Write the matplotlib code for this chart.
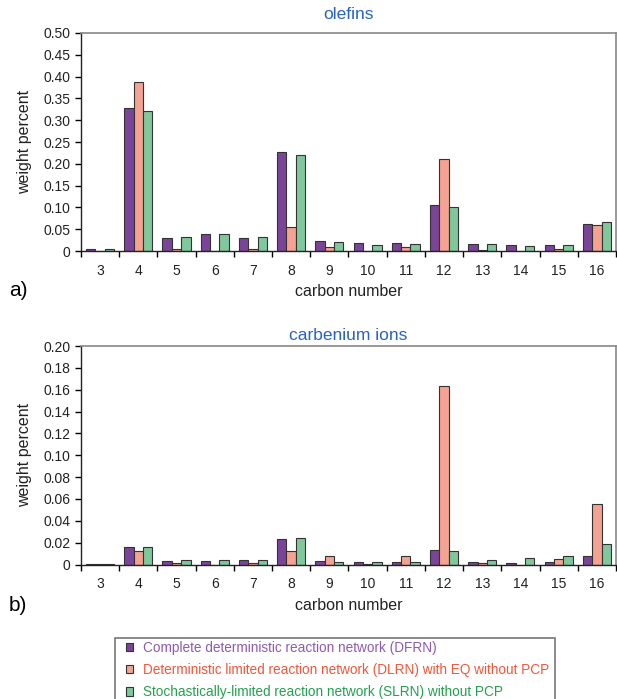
import numpy as np
import matplotlib.pyplot as plt
from matplotlib.patches import Rectangle

carbon = [3, 4, 5, 6, 7, 8, 9, 10, 11, 12, 13, 14, 15, 16]

# olefins, weight percent
olef_dfrn = [0.005, 0.328, 0.029, 0.038, 0.030, 0.227, 0.024, 0.019, 0.019, 0.105, 0.016, 0.014, 0.014, 0.063]
olef_dlrn = [0.001, 0.387, 0.004, 0.000, 0.004, 0.055, 0.009, 0.000, 0.010, 0.210, 0.002, 0.000, 0.004, 0.059]
olef_slrn = [0.004, 0.321, 0.032, 0.040, 0.032, 0.221, 0.021, 0.014, 0.015, 0.102, 0.016, 0.012, 0.013, 0.066]

# carbenium ions, weight percent
carb_dfrn = [0.0006, 0.0156, 0.0034, 0.0034, 0.0037, 0.0230, 0.0030, 0.0027, 0.0024, 0.0130, 0.0027, 0.0018, 0.0027, 0.0079]
carb_dlrn = [0.0002, 0.0122, 0.0012, 0.0000, 0.0012, 0.0120, 0.0082, 0.0005, 0.0076, 0.1635, 0.0015, 0.0000, 0.0046, 0.0558]
carb_slrn = [0.0006, 0.0162, 0.0037, 0.0037, 0.0037, 0.0247, 0.0027, 0.0020, 0.0024, 0.0125, 0.0043, 0.0061, 0.0082, 0.0189]

labels = ['Complete deterministic reaction network (DFRN)',
          'Deterministic limited reaction network (DLRN) with EQ without PCP',
          'Stochastically-limited reaction network (SLRN) without PCP']
bar_colors = ['#7a4599', '#f4a292', '#80c89c']
text_colors = ['#8e5bb0', '#f0583a', '#24a050']

plt.rcParams['font.family'] = ['Liberation Sans', 'DejaVu Sans']

W, H = 617, 699
fig = plt.figure(figsize=(W / 100, H / 100), dpi=100)
ax1 = fig.add_axes([0.1313, 0.6409, 0.867, 0.3119])
ax2 = fig.add_axes([0.1313, 0.1924, 0.867, 0.3126])

x = np.arange(len(carbon))
w = 0.245


def draw(ax, series, ymax, step, title, letter, tpad, ly):
    bars = []
    for i, vals in enumerate(series):
        b = ax.bar(x + (i - 1) * w, vals, w, color=bar_colors[i],
                   edgecolor='#333333', linewidth=0.8)
        bars.append(b)
    ax.set_xlim(-0.5, len(carbon) - 0.5)
    ax.set_ylim(0, ymax)
    yt = np.arange(0, ymax + step / 2, step)
    ax.set_yticks(yt)
    ax.set_yticklabels(['0'] + ['%.2f' % v for v in yt[1:]], fontsize=10, color='#222222')
    ax.set_xticks(x)
    ax.set_xticklabels([str(c) for c in carbon], fontsize=10, color='#222222')
    ax.set_xticks(np.arange(-0.5, len(carbon)), minor=True)
    ax.tick_params(axis='x', which='major', length=0, pad=9)
    ax.tick_params(axis='x', which='minor', length=4, direction='out', width=1)
    ax.tick_params(axis='y', length=4, width=1, direction='out')
    for s in ['top', 'right']:
        ax.spines[s].set_color('#888888')
        ax.spines[s].set_linewidth(1.2)
    for s in ['left', 'bottom']:
        ax.spines[s].set_color('#222222')
        ax.spines[s].set_linewidth(1.0)
    ax.set_title(title, color='#2a62c0', fontsize=12.5, pad=tpad)
    ax.set_xlabel('carbon number', fontsize=11.5, labelpad=5, color='#222222')
    ax.set_ylabel('weight percent', fontsize=11.5, labelpad=8, color='#222222')
    ax.text(-0.135, ly, letter, transform=ax.transAxes, fontsize=15)
    return bars


bars = draw(ax1, [olef_dfrn, olef_dlrn, olef_slrn], 0.50, 0.05, 'olefins', 'a)', 10, -0.206)
draw(ax2, [carb_dfrn, carb_dlrn, carb_slrn], 0.20, 0.02, 'carbenium ions', 'b)', 4.5, -0.213)

# legend box runs off the bottom of the figure in the original
fig.patches.append(Rectangle((115 / W, -0.05), 440 / W, 0.05 + (H - 638) / H,
                             transform=fig.transFigure, fill=False,
                             edgecolor='#777777', linewidth=1.2))
leg = fig.legend(bars, labels, loc='upper left', bbox_to_anchor=(126 / W, 1 - 641 / H),
                 fontsize=9.8, frameon=False, handlelength=0.55,
                 handleheight=0.55, handletextpad=0.7, borderpad=0, labelspacing=0.6,
                 borderaxespad=0)
for t, c in zip(leg.get_texts(), text_colors):
    t.set_color(c)

fig.savefig('out.png', dpi=100)
